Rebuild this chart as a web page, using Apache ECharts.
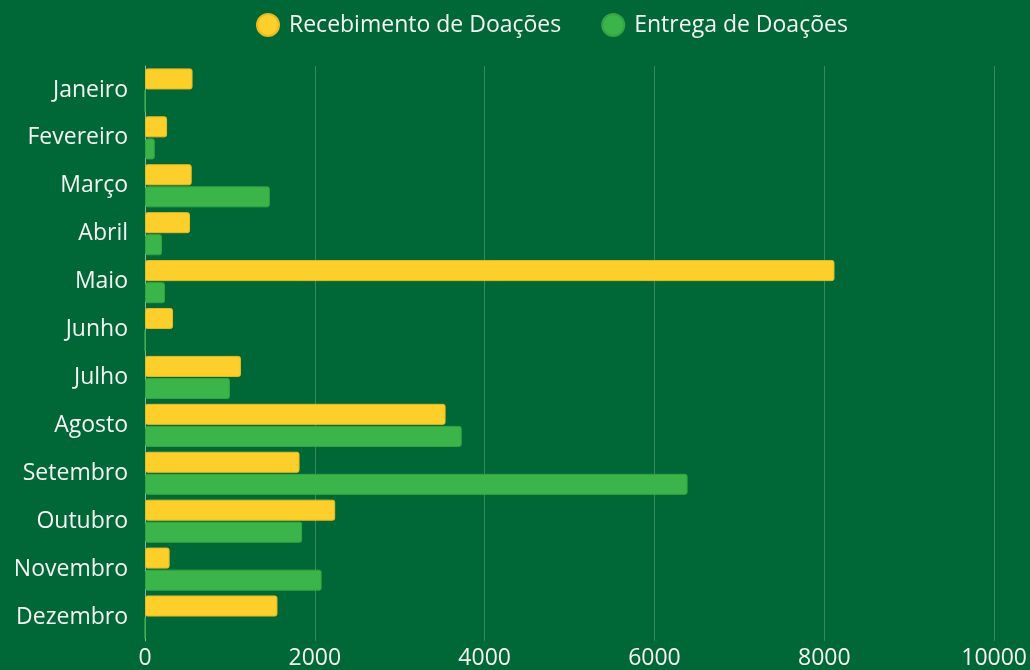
<!DOCTYPE html>
<html lang="pt">
<head>
    <meta charset="utf-8">
    <title>Doações</title>
    <script src="https://cdn.jsdelivr.net/npm/echarts@6/dist/echarts.min.js"></script>
    <style>
        html, body { margin: 0; padding: 0; background: #006837; }
        #chart { width: 1030px; height: 670px; }
    </style>
</head>
<body>
    <div id="chart"></div>
    <script>
        var meses = ['Janeiro', 'Fevereiro', 'Março', 'Abril', 'Maio', 'Junho',
            'Julho', 'Agosto', 'Setembro', 'Outubro', 'Novembro', 'Dezembro'];
        var recebimento = [560, 260, 550, 530, 8120, 330, 1130, 3540, 1820, 2240, 290, 1560];
        var entrega = [0, 115, 1470, 200, 235, 0, 1000, 3730, 6390, 1850, 2080, 0];
        var ticksX = [0, 2000, 4000, 6000, 8000, 10000];

        var fonte = '"Open Sans", "Noto Sans", sans-serif';
        var option = {
            backgroundColor: '#006837',
            textStyle: { fontFamily: fonte },
            legend: {
                top: 8,
                left: 251,
                icon: 'circle',
                itemWidth: 22,
                itemHeight: 22,
                itemGap: 40,
                textStyle: { color: '#f4f4f4', fontSize: 23, fontFamily: fonte, padding: [0, 0, 0, 5] },
                data: ['Recebimento de Doações', 'Entrega de Doações']
            },
            grid: { left: 145, right: 35, top: 66, bottom: 27 },
            xAxis: {
                type: 'value',
                min: ticksX[0],
                max: ticksX[ticksX.length - 1],
                interval: 2000,
                axisLine: { show: false },
                axisTick: { show: false },
                axisLabel: {
                    color: '#f4f4f4', fontSize: 23, margin: 6, fontFamily: fonte,
                    formatter: function (v) { return String(v); }
                },
                splitLine: { lineStyle: { color: 'rgba(255,255,255,0.22)', width: 1 } }
            },
            yAxis: {
                type: 'category',
                inverse: true,
                data: meses,
                axisLine: { show: true, lineStyle: { color: 'rgba(255,255,255,0.4)', width: 1 } },
                axisTick: { show: false },
                axisLabel: { color: '#f4f4f4', fontSize: 23, margin: 17, fontFamily: fonte }
            },
            series: [{
                name: 'Recebimento de Doações',
                type: 'bar',
                data: recebimento,
                barCategoryGap: '10%',
                barGap: '5%',
                itemStyle: { color: '#fccf2a', borderColor: '#e8bb22', borderWidth: 1, borderRadius: 2 }
            }, {
                name: 'Entrega de Doações',
                type: 'bar',
                data: entrega,
                barCategoryGap: '10%',
                barGap: '5%',
                itemStyle: { color: '#3bb44a', borderColor: '#33a542', borderWidth: 1, borderRadius: 2 }
            }]
        };
        var chart = echarts.init(document.getElementById('chart'));
        chart.setOption(option);
    </script>
</body>
</html>
